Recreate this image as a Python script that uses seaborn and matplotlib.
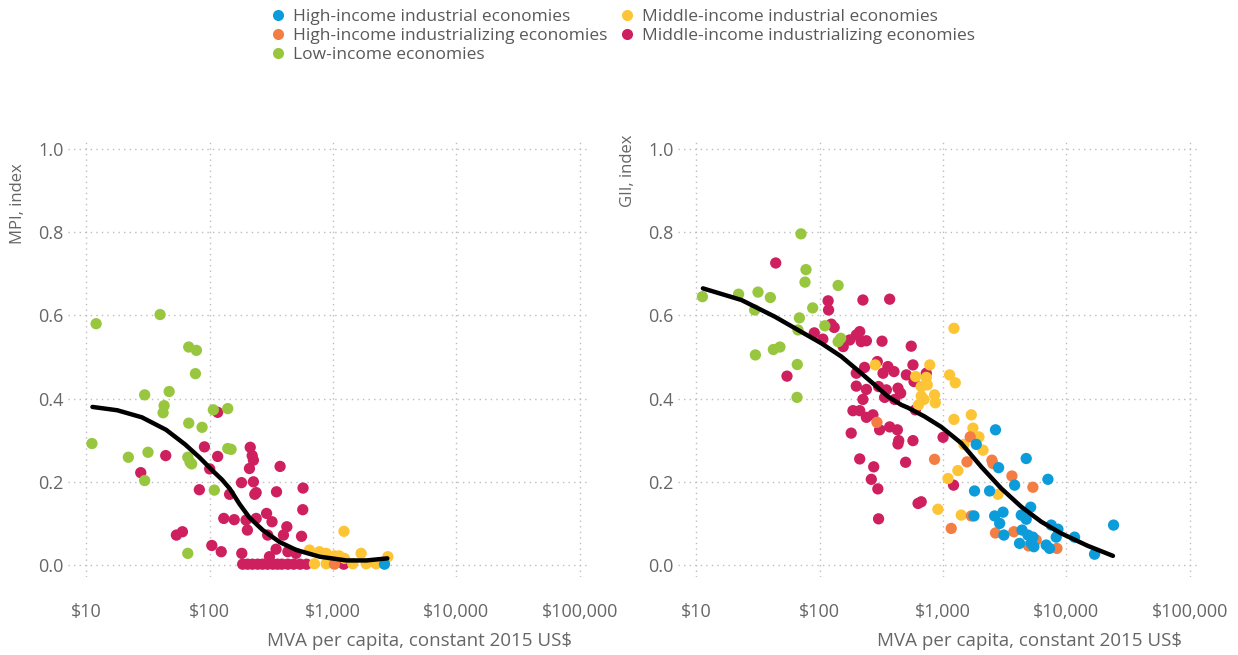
import numpy as np
import pandas as pd
import seaborn as sns
import matplotlib.pyplot as plt
from matplotlib.lines import Line2D
from matplotlib.ticker import FixedLocator, FuncFormatter, NullLocator

sns.set_theme(style="white")
plt.rcParams["font.family"] = ["Open Sans", "DejaVu Sans"]

# ---------------------------------------------------------------------------
# Country groups and colours
# ---------------------------------------------------------------------------
groups = [
    "High-income industrial economies",
    "High-income industrializing economies",
    "Low-income economies",
    "Middle-income industrial economies",
    "Middle-income industrializing economies",
]
colors = {
    "High-income industrial economies": "#0C9CDA",
    "High-income industrializing economies": "#F47D43",
    "Low-income economies": "#98C73F",
    "Middle-income industrial economies": "#FDC535",
    "Middle-income industrializing economies": "#CE1F5E",
}
draw_order = [groups[4], groups[2], groups[3], groups[1], groups[0]]

# ---------------------------------------------------------------------------
# MPI panel: MVA per capita (constant 2015 US$) and MPI index
# ---------------------------------------------------------------------------
mpi_hi_ind_mva = [2612]
mpi_hi_ind_val = [0.002]

mpi_hi_izing_mva = [1026]
mpi_hi_izing_val = [0.002]

mpi_low_mva = [12.0, 11.1, 39.6, 67.6, 78.0, 76.6, 29.7, 46.9, 42.7, 41.9,
               107, 140, 67.6, 86.7, 21.9, 31.6, 29.7, 66.4, 69.3, 71.4,
               140, 149, 109, 66.4]
mpi_low_val = [0.580, 0.292, 0.602, 0.524, 0.516, 0.460, 0.409, 0.417, 0.383, 0.366,
               0.373, 0.376, 0.341, 0.331, 0.259, 0.271, 0.203, 0.259, 0.247, 0.243,
               0.280, 0.278, 0.180, 0.028]

mpi_mid_ind_mva = [644, 776, 879, 1026, 1236, 1687, 1225, 2780, 706, 879,
                   1445, 1854, 2234, 1120]
mpi_mid_ind_val = [0.036, 0.032, 0.028, 0.022, 0.016, 0.028, 0.081, 0.020, 0.003, 0.003,
                   0.003, 0.003, 0.003, 0.022]

mpi_mid_izing_mva = [116, 90.6, 44.0, 27.6, 116, 100, 82.4, 213, 221, 226,
                     210, 372, 181, 226, 238, 232, 145, 348, 571, 568,
                     289, 320, 130, 158, 197, 238, 202, 422, 396, 295,
                     555, 53.7, 60.1, 104, 124, 182, 345, 430, 501, 305,
                     185, 203, 222, 245, 268, 295, 325, 355, 385, 430,
                     480, 540, 610, 1220]
mpi_mid_izing_val = [0.367, 0.284, 0.263, 0.222, 0.261, 0.231, 0.181, 0.283, 0.263, 0.252,
                     0.232, 0.237, 0.198, 0.200, 0.174, 0.170, 0.170, 0.176, 0.185, 0.133,
                     0.124, 0.104, 0.112, 0.109, 0.108, 0.112, 0.084, 0.092, 0.072, 0.072,
                     0.069, 0.072, 0.080, 0.047, 0.032, 0.028, 0.038, 0.032, 0.028, 0.020,
                     0.002, 0.002, 0.002, 0.002, 0.002, 0.002, 0.002, 0.002, 0.002, 0.002,
                     0.002, 0.002, 0.002, 0.002]

# fitted trend, MPI
mpi_fit_mva = [11.2, 17.8, 28.2, 44.3, 63.1, 82.4, 107, 126, 145, 175,
               210, 269, 370, 505, 780, 1285, 1862, 2754]
mpi_fit_val = [0.380, 0.372, 0.355, 0.325, 0.290, 0.259, 0.225, 0.205, 0.184, 0.146,
               0.114, 0.084, 0.055, 0.036, 0.020, 0.011, 0.011, 0.016]

# ---------------------------------------------------------------------------
# GII panel: MVA per capita (constant 2015 US$) and GII index
# ---------------------------------------------------------------------------
gii_hi_ind_mva = [2661, 1858, 4721, 2818, 7079, 3802, 1799, 2382, 1780, 2618,
                  3062, 5129, 4305, 4721, 2877, 3112, 4365, 4875, 5346, 5188,
                  5445, 4169, 7534, 8531, 8260, 6855, 7295, 11641, 16904, 24099]
gii_hi_ind_val = [0.325, 0.290, 0.256, 0.234, 0.206, 0.192, 0.178, 0.178, 0.118, 0.118,
                  0.127, 0.139, 0.120, 0.110, 0.100, 0.072, 0.084, 0.072, 0.067, 0.052,
                  0.044, 0.052, 0.096, 0.086, 0.067, 0.048, 0.040, 0.067, 0.026, 0.096]

gii_hi_izing_mva = [291, 853, 1563, 1660, 2489, 2535, 3614, 5346, 1694, 1164,
                    2661, 3750, 4932, 5689, 8375]
gii_hi_izing_val = [0.343, 0.254, 0.248, 0.308, 0.252, 0.244, 0.214, 0.187, 0.118, 0.088,
                    0.077, 0.080, 0.046, 0.060, 0.040]

gii_low_mva = [11.2, 22.0, 31.6, 39.8, 29.7, 30.1, 42.1, 47.6, 65.8, 65.5,
               70.5, 77.4, 76.0, 68.4, 66.7, 87.7, 141, 110, 148, 141]
gii_low_val = [0.645, 0.651, 0.656, 0.643, 0.613, 0.505, 0.518, 0.524, 0.482, 0.403,
               0.796, 0.710, 0.680, 0.594, 0.565, 0.618, 0.672, 0.575, 0.545, 0.537]

gii_mid_ind_mva = [282, 780, 600, 731, 745, 665, 665, 853, 700, 865,
                   632, 1130, 1256, 1225, 1225, 1694, 1746, 1954, 2109, 1476,
                   1318, 1096, 908, 1403, 2786]
gii_mid_ind_val = [0.481, 0.481, 0.453, 0.451, 0.433, 0.429, 0.406, 0.409, 0.398, 0.390,
                   0.385, 0.457, 0.438, 0.569, 0.350, 0.361, 0.329, 0.308, 0.276, 0.290,
                   0.227, 0.208, 0.134, 0.120, 0.170]

gii_mid_izing_mva = [44.0, 54.3, 117, 118, 124, 131, 90.4, 106, 224, 369,
                     155, 175, 198, 211, 217, 239, 320, 552, 231, 293,
                     357, 326, 400, 198, 570, 504, 581, 731, 198, 239,
                     300, 347, 431, 453, 336, 405, 224, 186, 211, 239,
                     270, 596, 180, 306, 369, 426, 437, 431, 570, 1000,
                     211, 274, 497, 262, 296, 300, 627, 665, 1216]
gii_mid_izing_val = [0.726, 0.454, 0.635, 0.613, 0.579, 0.571, 0.558, 0.543, 0.637, 0.639,
                     0.525, 0.541, 0.553, 0.561, 0.537, 0.539, 0.538, 0.526, 0.475, 0.489,
                     0.477, 0.461, 0.465, 0.461, 0.481, 0.457, 0.441, 0.461, 0.430, 0.422,
                     0.429, 0.421, 0.425, 0.413, 0.403, 0.398, 0.398, 0.371, 0.371, 0.355,
                     0.361, 0.373, 0.317, 0.325, 0.332, 0.325, 0.299, 0.291, 0.299, 0.307,
                     0.255, 0.236, 0.247, 0.206, 0.183, 0.111, 0.148, 0.152, 0.192]

# fitted trend, GII
gii_fit_mva = [11.3, 23.2, 43.2, 66.7, 103, 150, 217, 279, 357, 458,
               520, 708, 966, 1403, 2042, 2965, 4305, 6252, 9078, 14928, 23823]
gii_fit_val = [0.665, 0.637, 0.597, 0.565, 0.533, 0.501, 0.461, 0.433, 0.405, 0.385,
               0.378, 0.357, 0.332, 0.293, 0.236, 0.184, 0.140, 0.104, 0.076, 0.046, 0.022]

x_ticks = [10, 100, 1000, 10000, 100000]
y_ticks = [0.0, 0.2, 0.4, 0.6, 0.8, 1.0]


def build_frame(series, value_name):
    rows = []
    for grp, (mva, val) in series.items():
        rows.append(pd.DataFrame({"mva": mva, value_name: val, "group": grp}))
    df = pd.concat(rows, ignore_index=True)
    df["group"] = pd.Categorical(df["group"], categories=draw_order, ordered=True)
    return df.sort_values("group", kind="stable")


mpi_df = build_frame({
    groups[0]: (mpi_hi_ind_mva, mpi_hi_ind_val),
    groups[1]: (mpi_hi_izing_mva, mpi_hi_izing_val),
    groups[2]: (mpi_low_mva, mpi_low_val),
    groups[3]: (mpi_mid_ind_mva, mpi_mid_ind_val),
    groups[4]: (mpi_mid_izing_mva, mpi_mid_izing_val),
}, "index")

gii_df = build_frame({
    groups[0]: (gii_hi_ind_mva, gii_hi_ind_val),
    groups[1]: (gii_hi_izing_mva, gii_hi_izing_val),
    groups[2]: (gii_low_mva, gii_low_val),
    groups[3]: (gii_mid_ind_mva, gii_mid_ind_val),
    groups[4]: (gii_mid_izing_mva, gii_mid_izing_val),
}, "index")

W, H = 1238, 655
fig = plt.figure(figsize=(W / 100, H / 100), dpi=100)

ax_top, ax_bot, ax_w = 140, 577, 522
# (left edge px, data, trend x, trend y, y label, y-label vertical position)
panels = [
    (68, mpi_df, mpi_fit_mva, mpi_fit_val, "MPI, index", 0.855),
    (678, gii_df, gii_fit_mva, gii_fit_val, "GII, index", 0.93),
]

TXT = "#666666"
for left, df, fx, fy, ylab, ylab_pos in panels:
    ax = fig.add_axes([left / W, 1 - ax_bot / H, ax_w / W, (ax_bot - ax_top) / H])
    sns.scatterplot(data=df, x="mva", y="index", hue="group", palette=colors,
                    s=66, linewidth=0, alpha=1, legend=False, ax=ax, zorder=3)
    sns.lineplot(x=fx, y=fy, color="black", lw=3.2, sort=False, ax=ax, zorder=5)

    ax.set_xscale("log")
    ax.set_xlim(7.1, 121000)
    ax.set_ylim(-0.0288, 1.0216)
    ax.xaxis.set_major_locator(FixedLocator(x_ticks))
    ax.xaxis.set_minor_locator(NullLocator())
    ax.xaxis.set_major_formatter(FuncFormatter(lambda v, p: f"${v:,.0f}"))
    ax.yaxis.set_major_locator(FixedLocator(y_ticks))
    ax.yaxis.set_major_formatter(FuncFormatter(lambda v, p: f"{v:.1f}"))

    ax.grid(True, which="major", color="#bdbdbd", linestyle=(0, (1, 3)), lw=1.0)
    ax.set_axisbelow(True)
    for side in ["top", "right", "left"]:
        ax.spines[side].set_visible(False)
    ax.spines["bottom"].set_position(("outward", 5))
    ax.spines["bottom"].set_visible(False)

    ax.tick_params(axis="x", which="major", direction="out", length=8, width=1.5,
                   color="#8c8c8c", labelsize=13, labelcolor=TXT, pad=6)
    ax.tick_params(axis="y", length=0, labelsize=13, labelcolor=TXT, pad=3)

    ax.set_xlabel("MVA per capita, constant 2015 US$", fontsize=13.5, color=TXT)
    ax.xaxis.set_label_coords(0.965, -0.125)
    ax.xaxis.label.set_ha("right")
    ax.set_ylabel(ylab, fontsize=12, color=TXT)
    ax.yaxis.set_label_coords(-0.081, ylab_pos)

handles = [Line2D([0], [0], marker="o", linestyle="none", markersize=8,
                  markerfacecolor=colors[g], markeredgewidth=0) for g in groups]
leg = fig.legend(handles, groups, loc="upper left", bbox_to_anchor=(271 / W, 1 - 9 / H),
                 ncol=2, frameon=False, fontsize=12.5, handlelength=0.8,
                 handletextpad=0.45, columnspacing=0.75, labelspacing=0.16,
                 borderaxespad=0, borderpad=0)
for t in leg.get_texts():
    t.set_color("#595959")

fig.savefig("out.png", dpi=100)
